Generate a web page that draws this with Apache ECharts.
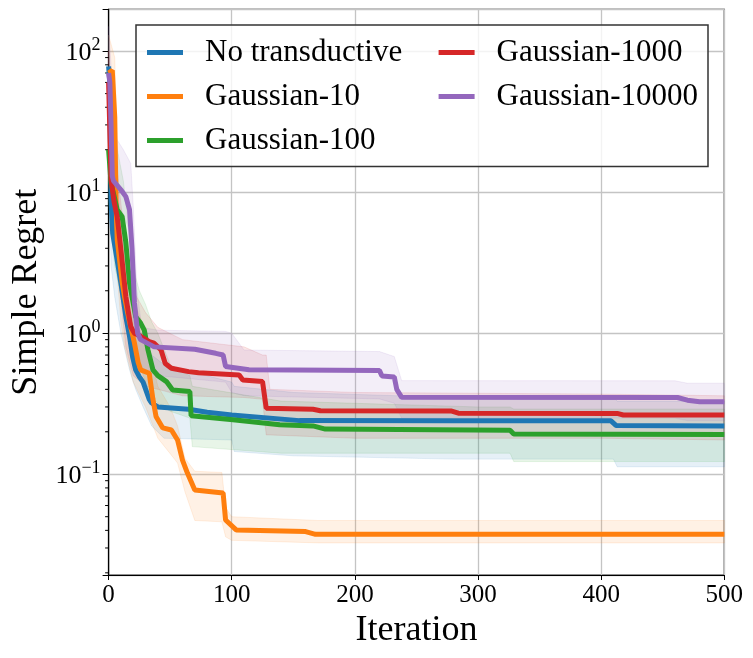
<!DOCTYPE html>
<html>
<head>
<meta charset="utf-8">
<script src="https://cdn.jsdelivr.net/npm/echarts@6/dist/echarts.min.js"></script>
<style>
  html, body { margin: 0; padding: 0; background: #fff; }
  #main { width: 753px; height: 658px; }
</style>
</head>
<body>
<div id="main"></div>
<script>
var chart = echarts.init(document.getElementById('main'));

var FONT = '"Liberation Serif", "DejaVu Serif", serif';

// series names and colours
var names = ['No transductive', 'Gaussian-10', 'Gaussian-100', 'Gaussian-1000', 'Gaussian-10000'];
var colors = ['#1f77b4', '#ff7f0e', '#2ca02c', '#d62728', '#9467bd'];

// mean curves, [iteration, simple regret]
var meanNoTrans = [[0,78],[1,60],[2,8.8],[3.3,5.1],[6,3.7],[10,2.27],[14,1.31],[17,0.95],[19.5,0.68],[22,0.55],[25,0.49],[28,0.45],[33,0.34],[35,0.32],[40,0.30],[65,0.289],[80,0.275],[100,0.263],[101,0.258],[155,0.24],[280,0.239],[408,0.239],[412,0.222],[500,0.220]];
var meanG10 = [[0,70],[3,73],[5,34],[6,8.8],[7,4.6],[11,2.3],[13,1.8],[17,1.2],[21,0.85],[24,0.62],[26,0.55],[33,0.52],[36,0.34],[38.5,0.257],[44,0.213],[51,0.206],[56,0.175],[60,0.126],[64,0.102],[70,0.0774],[93,0.0736],[95,0.0474],[103.6,0.0403],[160,0.0392],[168,0.0375],[500,0.0375]];
var meanG100 = [[0,20],[2,11.6],[7,7.5],[11,6.7],[14,4.4],[17,2.27],[22,1.31],[26,1.18],[29,1.05],[32,0.76],[36,0.55],[40,0.5],[47,0.454],[52,0.396],[66,0.386],[67,0.26],[101,0.243],[139,0.224],[166,0.220],[176,0.209],[326,0.205],[329,0.193],[500,0.191]];
var meanG1000 = [[0,60],[2,12.2],[4.6,8.4],[7,6.7],[10,3.9],[14,1.82],[18,1.11],[21,1.0],[26,0.95],[33,0.87],[37,0.85],[42.6,0.76],[46,0.61],[51,0.565],[65,0.534],[73,0.525],[106,0.506],[109,0.466],[125,0.454],[128,0.294],[166,0.289],[172,0.282],[278,0.281],[284,0.271],[413,0.27],[418,0.263],[500,0.263]];
var meanG10000 = [[0,70],[1,60],[2,30],[3,13],[4,12],[10,10.4],[14,9.3],[17,7.5],[19,4],[21,1.64],[23.6,1.0],[26,0.9],[37,0.8],[70,0.77],[87,0.72],[93,0.7],[95,0.58],[114,0.55],[220,0.543],[222,0.497],[232,0.49],[234,0.40],[238,0.351],[462,0.35],[470,0.335],[480,0.327],[500,0.327]];

// shaded bands, [iteration, lower, upper]
var bandNoTrans = [[0,40,130],[2,3,20],[5,1.8,9],[10,1.0,6],[15,0.65,3],[17,0.55,2.2],[20,0.45,1.6],[22,0.4,1.3],[28,0.30,0.9],[35,0.22,0.7],[45,0.18,0.6],[100,0.175,0.45],[102,0.145,0.42],[150,0.135,0.38],[280,0.128,0.35],[410,0.128,0.35],[413,0.113,0.33],[500,0.113,0.33]];
var bandG10 = [[0,30,130],[5,5,90],[8,2,10],[10,1.2,6],[13,0.8,3.5],[20,0.45,1.8],[30,0.3,1.0],[40,0.18,0.42],[50,0.14,0.3],[56,0.12,0.22],[62,0.075,0.13],[70,0.047,0.105],[92,0.046,0.103],[95,0.036,0.058],[100,0.034,0.05],[170,0.0326,0.047],[500,0.0326,0.047]];
var bandG100 = [[0,8,60],[5,3,25],[12,1.5,12],[17,0.9,5],[22,0.75,2.5],[25,0.6,2],[30,0.45,1.6],[35,0.35,1.2],[40,0.32,1.0],[50,0.28,0.6],[66,0.25,0.5],[68,0.157,0.42],[140,0.141,0.33],[300,0.141,0.30],[326,0.141,0.30],[329,0.123,0.29],[500,0.123,0.29]];
var bandG1000 = [[0,20,100],[3,5,25],[8,2.5,12],[14,0.8,4],[20,0.5,2],[30,0.42,1.4],[40,0.4,1.1],[60,0.36,0.9],[110,0.35,0.8],[125,0.34,0.7],[128,0.19,0.7],[131,0.19,0.4],[200,0.18,0.38],[400,0.18,0.37],[500,0.175,0.36]];
var bandG10000 = [[0,30,150],[2,12,80],[5,9,25],[12,7,20],[18,5,16],[20,1.0,8],[23,0.7,2],[27,0.55,1.1],[40,0.5,1.05],[95,0.45,1.03],[100,0.38,1.0],[110,0.36,0.76],[220,0.342,0.741],[232,0.319,0.683],[238,0.25,0.461],[460,0.25,0.46],[470,0.24,0.442],[500,0.24,0.442]];

var means = [meanNoTrans, meanG10, meanG100, meanG1000, meanG10000];
var bands = [bandNoTrans, bandG10, bandG100, bandG1000, bandG10000];

// minor ticks on the log axis
var minorTicks = [0.02,0.03,0.04,0.05,0.06,0.07,0.08,0.09,0.2,0.3,0.4,0.5,0.6,0.7,0.8,0.9,2,3,4,5,6,7,8,9,20,30,40,50,60,70,80,90];

function bandSeries(i) {
  var band = bands[i];
  return {
    type: 'custom',
    name: names[i] + ' band',
    silent: true,
    clip: true,
    z: 1,
    data: band,
    encode: { x: 0, y: [1, 2] },
    renderItem: function (params, api) {
      if (params.dataIndex !== 0) return null;
      var top = band.map(function (p) { return api.coord([p[0], p[2]]); });
      var bot = band.map(function (p) { return api.coord([p[0], p[1]]); }).reverse();
      return {
        type: 'polygon',
        shape: { points: top.concat(bot) },
        style: { fill: colors[i], stroke: colors[i], lineWidth: 1, opacity: 0.11 }
      };
    }
  };
}

function lineSeries(i) {
  return {
    type: 'line',
    name: names[i],
    data: means[i],
    showSymbol: false,
    symbol: 'none',
    z: 3,
    lineStyle: { width: 5, color: colors[i] },
    itemStyle: { color: colors[i] }
  };
}

var series = [];
for (var i = 0; i < names.length; i++) series.push(bandSeries(i));
for (var j = 0; j < names.length; j++) series.push(lineSeries(j));
series.push({
  type: 'custom',
  name: 'minor',
  silent: true,
  clip: false,
  data: minorTicks.map(function (v) { return [0, v]; }),
  renderItem: function (params, api) {
    var p = api.coord([0, api.value(1)]);
    return {
      type: 'line',
      shape: { x1: p[0] - 3.5, y1: p[1], x2: p[0], y2: p[1] },
      style: { stroke: '#000', lineWidth: 1 }
    };
  }
});

function legendBlock(left, items) {
  return {
    data: items,
    left: left,
    top: 37,
    orient: 'vertical',
    padding: 0,
    itemGap: 13,
    itemWidth: 36,
    itemHeight: 5,
    icon: 'rect',
    selectedMode: false,
    z: 11,
    textStyle: { fontFamily: FONT, fontSize: 31, lineHeight: 31, color: '#000', padding: [0, 0, 0, 17] }
  };
}

var option = {
  animation: false,
  backgroundColor: '#fff',
  grid: {
    left: 108.6, right: 28.7, top: 9.3, bottom: 83,
    show: true, borderColor: '#000', borderWidth: 1.2, backgroundColor: 'transparent'
  },
  graphic: [{
    type: 'rect',
    z: 10,
    shape: { x: 136, y: 25, width: 572, height: 141.5 },
    style: { fill: 'rgba(255,255,255,0.8)', stroke: '#333', lineWidth: 1.5 }
  }],
  legend: [
    legendBlock(147, names.slice(0, 3)),
    legendBlock(438.6, names.slice(3))
  ],
  xAxis: {
    type: 'value',
    min: 0, max: 500, interval: 100,
    name: 'Iteration',
    nameLocation: 'middle',
    nameGap: 36,
    nameTextStyle: { fontFamily: FONT, fontSize: 36, color: '#000' },
    axisLine: { show: true, onZero: false, lineStyle: { color: '#000', width: 1.2 } },
    axisTick: { show: true, length: 5, lineStyle: { color: '#000', width: 1 } },
    axisLabel: { fontFamily: FONT, fontSize: 25, color: '#000', margin: 8 },
    splitLine: { show: true, lineStyle: { color: '#c4c4c4', width: 1.3 } }
  },
  yAxis: {
    type: 'log',
    logBase: 10,
    min: 0.0193, max: 198,
    name: 'Simple Regret',
    nameLocation: 'middle',
    nameRotate: 90,
    nameGap: 64,
    nameTextStyle: { fontFamily: FONT, fontSize: 36, color: '#000' },
    axisLine: { show: true, lineStyle: { color: '#000', width: 1.2 } },
    axisTick: { show: true, length: 6, lineStyle: { color: '#000', width: 1 } },
    splitLine: { show: true, lineStyle: { color: '#c4c4c4', width: 1.3 } },
    axisLabel: {
      margin: 8,
      formatter: function (v) {
        var e = Math.log10(v);
        var r = Math.round(e);
        if (Math.abs(e - r) > 1e-6) return '';
        return '{b|10}{s|' + (r < 0 ? '\u2212' + (-r) : r) + '}';
      },
      rich: {
        b: { fontFamily: FONT, fontSize: 26, lineHeight: 30, color: '#000', verticalAlign: 'bottom' },
        s: { fontFamily: FONT, fontSize: 18, lineHeight: 18, color: '#000', verticalAlign: 'top' }
      }
    }
  },
  series: series
};

chart.setOption(option);
</script>
</body>
</html>
